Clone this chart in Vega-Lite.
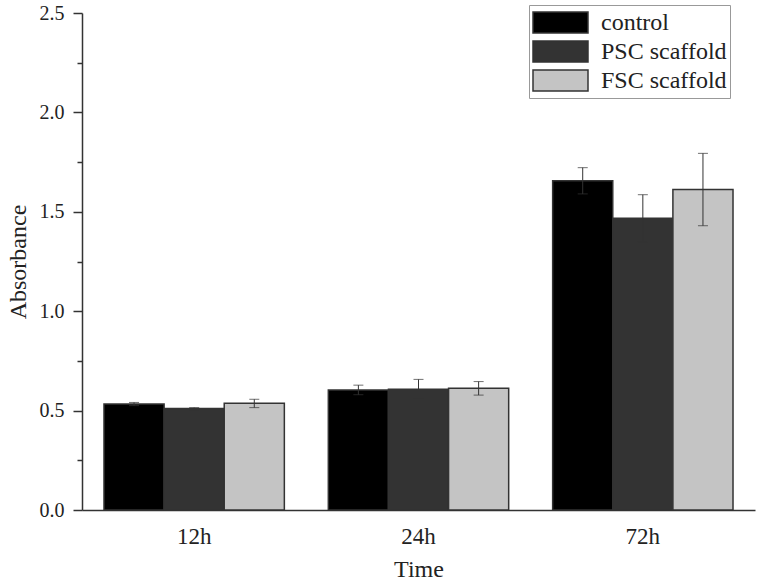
{
  "$schema": "https://vega.github.io/schema/vega-lite/v6.json",
  "width": 673,
  "height": 497,
  "autosize": {"type": "none"},
  "padding": {"left": 82, "top": 13, "right": 5, "bottom": 77},
  "background": "white",
  "config": {
    "view": {"stroke": null},
    "font": "Liberation Serif",
    "axis": {"labelFont": "Liberation Serif", "titleFont": "Liberation Serif", "labelColor": "#222", "titleColor": "#222", "titleFontWeight": "normal", "domainColor": "#333", "domainWidth": 1.5, "tickColor": "#333", "tickWidth": 1.5, "grid": false}
  },
  "data": {
    "values": [
      {"time": "12h", "group": "control", "value": 0.533, "lo": 0.525, "hi": 0.541},
      {"time": "12h", "group": "PSC scaffold", "value": 0.51, "lo": 0.505, "hi": 0.515},
      {"time": "12h", "group": "FSC scaffold", "value": 0.537, "lo": 0.515, "hi": 0.557},
      {"time": "24h", "group": "control", "value": 0.603, "lo": 0.58, "hi": 0.628},
      {"time": "24h", "group": "PSC scaffold", "value": 0.608, "lo": 0.56, "hi": 0.657},
      {"time": "24h", "group": "FSC scaffold", "value": 0.612, "lo": 0.578, "hi": 0.646},
      {"time": "72h", "group": "control", "value": 1.656, "lo": 1.59, "hi": 1.722},
      {"time": "72h", "group": "PSC scaffold", "value": 1.468, "lo": 1.35, "hi": 1.586},
      {"time": "72h", "group": "FSC scaffold", "value": 1.612, "lo": 1.43, "hi": 1.794}
    ]
  },
  "encoding": {
    "x": {
      "field": "time", "type": "nominal", "sort": ["12h", "24h", "72h"],
      "scale": {"paddingInner": 0.196, "paddingOuter": 0.098},
      "axis": {"title": "Time", "labelAngle": 0, "ticks": false, "tickSize": 0, "labelPadding": 15, "labelFontSize": 23, "titleFontSize": 24, "titlePadding": 9}
    },
    "xOffset": {"field": "group", "type": "nominal", "sort": ["control", "PSC scaffold", "FSC scaffold"], "scale": {"paddingInner": 0, "paddingOuter": 0}}
  },
  "layer": [
    {
      "mark": {"type": "bar", "stroke": "#333", "strokeWidth": 1.5},
      "encoding": {
        "y": {
          "field": "value", "type": "quantitative",
          "scale": {"domain": [0, 2.5], "nice": false},
          "axis": {
            "title": "Absorbance", "titleFontSize": 24, "titlePadding": 9, "labelFontSize": 20, "labelPadding": 9,
            "values": [0, 0.25, 0.5, 0.75, 1, 1.25, 1.5, 1.75, 2, 2.25, 2.5],
            "labelExpr": "(datum.value * 2) % 1 == 0 ? format(datum.value, '.1f') : ''",
            "tickSize": {"condition": {"test": "(datum.value * 2) % 1 == 0", "value": 9}, "value": 5}
          }
        },
        "fill": {
          "field": "group", "type": "nominal", "sort": ["control", "PSC scaffold", "FSC scaffold"],
          "scale": {"range": ["#000000", "#333333", "#c4c4c4"]},
          "legend": {
            "title": null, "orient": "none", "legendX": 447, "legendY": -8,
            "strokeColor": "#999", "padding": 3,
            "symbolType": "M-1,-0.38H1V0.38H-1Z", "symbolSize": 3025, "symbolStrokeColor": "#333", "symbolStrokeWidth": 1.5,
            "labelFontSize": 24, "labelFont": "Liberation Serif", "labelColor": "#222", "labelOffset": 12, "rowPadding": 0, "clipHeight": 29
          }
        }
      }
    },
    {
      "mark": {"type": "rule", "color": "#333", "strokeWidth": 1},
      "encoding": {"y": {"field": "lo", "type": "quantitative"}, "y2": {"field": "hi"}}
    },
    {
      "mark": {"type": "tick", "color": "#333", "thickness": 1, "size": 10},
      "encoding": {"y": {"field": "lo", "type": "quantitative"}}
    },
    {
      "mark": {"type": "tick", "color": "#333", "thickness": 1, "size": 10},
      "encoding": {"y": {"field": "hi", "type": "quantitative"}}
    }
  ]
}
